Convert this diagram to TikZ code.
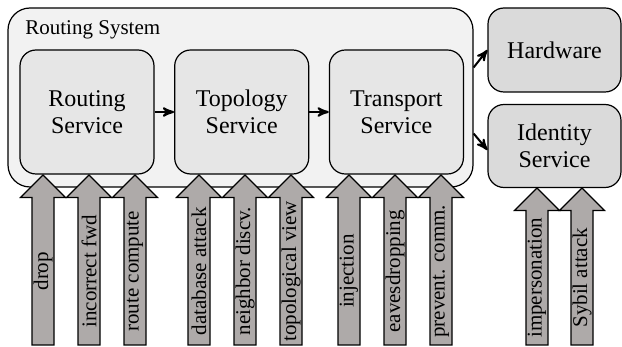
\documentclass[tikz,border=0pt]{standalone}
\usepackage{fontspec}
\setmainfont{Liberation Serif}
\definecolor{colorSystem}{HTML}{F2F2F2}
\definecolor{colorService}{HTML}{E6E6E6}
\definecolor{colorExternal}{HTML}{DADADA}
\definecolor{colorThreat}{HTML}{AEAAA9}
\usetikzlibrary{arrows, positioning}
\tikzset{
  system/.style={draw, fill=colorSystem, rounded corners=11pt, line width=0.6pt},
  service/.style={draw, fill=colorService, rounded corners=8pt, line width=0.6pt, minimum width=67pt, minimum height=62pt, align=center, font=\fontsize{12}{13.5}\selectfont},
  external/.style={service, fill=colorExternal, minimum width=66.5pt},
  threat/.style={draw, fill=colorThreat, line width=0.6pt},
  threatlabel/.style={rotate=90, inner sep=0pt, font=\fontsize{10.5}{12}\selectfont}
}

\begin{document}
\begin{tikzpicture}[x=0.5pt, y=-0.5pt, >=stealth', node distance=9.75pt]
\path (0,0) rectangle (622,347);
\node[system, minimum width=232.5pt, minimum height=89.5pt] (sys) at (240.5,97.5) {};
\node[anchor=base west, inner sep=0pt, font=\fontsize{10.5}{12}\selectfont] (syslabel) at (25,35) {Routing System};
\node[service] (routing) at (87,112) {Routing\\Service};
\node[service, right=of routing] (topology) {Topology\\Service};
\node[service, right=of topology] (transport) {Transport\\Service};
\node[external, minimum height=42pt] (hardware) at (554.5,50) {Hardware};
\node[external, minimum height=41.5pt] (identity) at (554.5,146) {Identity\\Service};
\draw[->, line width=1pt] (routing) -- (topology);
\draw[->, line width=1pt] (topology) -- (transport);
\draw[->, line width=1pt] ([yshift=15pt]sys.east) -- (hardware.west);
\draw[->, line width=1pt] ([yshift=-18pt]sys.east) -- ([yshift=-2pt]identity.west);
% attacks on the services
\foreach \x/\ytip/\name/\label in {43/175/drop/drop, 89/175/fwd/incorrect fwd, 135/175/compute/route compute,
    199/175/database/database attack, 245/175/discv/neighbor discv., 291/175/view/topological view,
    349/175/injection/injection, 395/175/eaves/eavesdropping, 441/175/prevent/prevent. comm.,
    537/188/imperson/impersonation, 582/188/sybil/Sybil attack}{
  \draw[threat] (\x,\ytip) -- ++(22.5,22.5) -- ++(-11.5,0) -- (\x+11,345) -- (\x-11,345) -- (\x-11,\ytip+22.5) -- ++(-11.5,0) -- cycle;
  \node[threatlabel] (\name) at (\x,{(\ytip+367.5)/2}) {\label};
}
\end{tikzpicture}
\end{document}
